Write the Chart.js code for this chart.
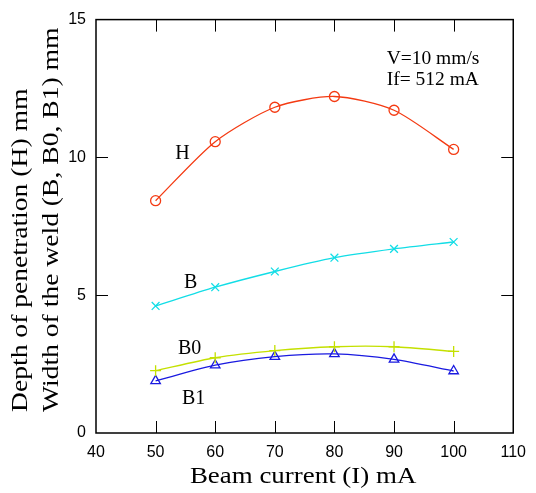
<!DOCTYPE html>
<html>
<head>
<meta charset="utf-8">
<script src="https://cdn.jsdelivr.net/npm/chart.js@4.4.1/dist/chart.umd.min.js"></script>
<style>
  body { margin: 0; background: #fff; }
  #wrap { width: 536px; height: 493px; }
</style>
</head>
<body>
<div id="wrap"><canvas id="chart" width="536" height="493"></canvas></div>
<script>
// beam current (mA) and the measured weld dimensions (mm)
const current = [50, 60, 70, 80, 90, 100];
const depthH  = [8.43, 10.57, 11.82, 12.21, 11.71, 10.29];
const widthB  = [4.61, 5.29, 5.86, 6.36, 6.68, 6.93];
const widthB0 = [2.26, 2.73, 2.99, 3.13, 3.13, 2.96];
const widthB1 = [1.89, 2.46, 2.77, 2.87, 2.67, 2.25];
const xTicks = [40, 50, 60, 70, 80, 90, 100, 110];
const yTicks = [0, 5, 10, 15];
const conditions = ['V=10 mm/s', 'If= 512 mA'];

const SERIF = "'Liberation Serif', 'Times New Roman', serif";
const SANS = "'Liberation Sans Narrow', 'Arial Narrow', 'Liberation Sans', Arial, sans-serif";

function series(label, values, color, pointStyle, radius) {
  return {
    label,
    data: values.map((v, i) => ({ x: current[i], y: v })),
    borderColor: color,
    backgroundColor: 'rgba(0,0,0,0)',
    pointBorderColor: color,
    pointBackgroundColor: 'rgba(0,0,0,0)',
    borderWidth: 1.3,
    pointBorderWidth: 1.3,
    pointStyle,
    pointRadius: radius,
    tension: 0.25,
    clip: false
  };
}

// draws text squeezed/stretched along its own direction
function stretchText(ctx, text, x, y, sx, rot) {
  ctx.save();
  ctx.translate(x, y);
  ctx.rotate(rot);
  ctx.scale(sx, 1);
  ctx.fillText(text, 0, 0);
  ctx.restore();
}

// box around the plot with inward tick marks on all four sides
const framePlugin = {
  id: 'frame',
  beforeDatasetsDraw(chart) {
    const { ctx, chartArea: a, scales } = chart;
    const len = 12;
    ctx.save();
    ctx.strokeStyle = '#000';
    ctx.lineWidth = 1.5;
    ctx.strokeRect(a.left, a.top, a.right - a.left, a.bottom - a.top);
    ctx.lineWidth = 1;
    ctx.beginPath();
    scales.x.ticks.forEach(t => {
      if (t.value <= scales.x.min || t.value >= scales.x.max) return;
      const px = Math.round(scales.x.getPixelForValue(t.value)) + 0.5;
      ctx.moveTo(px, a.bottom); ctx.lineTo(px, a.bottom - len);
      ctx.moveTo(px, a.top); ctx.lineTo(px, a.top + len);
    });
    scales.y.ticks.forEach(t => {
      if (t.value <= scales.y.min || t.value >= scales.y.max) return;
      const py = Math.round(scales.y.getPixelForValue(t.value)) + 0.5;
      ctx.moveTo(a.left, py); ctx.lineTo(a.left + len, py);
      ctx.moveTo(a.right, py); ctx.lineTo(a.right - len, py);
    });
    ctx.stroke();
    ctx.restore();
  }
};

// axis titles, curve names and the process conditions
const labelPlugin = {
  id: 'labels',
  afterDraw(chart) {
    const { ctx, chartArea: a, scales } = chart;
    const x = scales.x, y = scales.y;
    ctx.save();
    ctx.fillStyle = '#000';
    ctx.textBaseline = 'alphabetic';

    ctx.font = '23px ' + SERIF;
    ctx.textAlign = 'center';
    stretchText(ctx, 'Beam current (I) mA', (a.left + a.right) / 2 - 1.5, a.bottom + 50, 1.17, 0);
    ctx.textAlign = 'left';
    stretchText(ctx, 'Depth of penetration (H) mm', a.left - 69, a.bottom - 21, 1.2, -Math.PI / 2);
    stretchText(ctx, 'Width of the weld (B, B0, B1) mm', a.left - 38, a.bottom - 21, 1.2, -Math.PI / 2);

    ctx.font = '20px ' + SERIF;
    const names = [['H', 53.3, 9.93], ['B', 54.76, 5.25], ['B0', 53.76, 2.86], ['B1', 54.43, 1.07]];
    names.forEach(([t, vx, vy]) => ctx.fillText(t, x.getPixelForValue(vx), y.getPixelForValue(vy)));

    ctx.font = '19.5px ' + SERIF;
    ctx.fillText(conditions[0], x.getPixelForValue(88.76), y.getPixelForValue(13.39));
    ctx.fillText(conditions[1], x.getPixelForValue(88.76), y.getPixelForValue(12.61));
    ctx.restore();
  }
};

new Chart(document.getElementById('chart'), {
  type: 'line',
  data: {
    datasets: [
      series('H', depthH, '#f43a12', 'circle', 5),
      series('B', widthB, '#12dde6', 'crossRot', 5.5),
      series('B0', widthB0, '#c4e000', 'cross', 5.5),
      series('B1', widthB1, '#1a1ae0', 'triangle', 5.5)
    ]
  },
  options: {
    responsive: false,
    animation: false,
    devicePixelRatio: 1,
    layout: { padding: { left: 0, top: 13, right: 18, bottom: 0 } },
    plugins: { legend: { display: false }, tooltip: { enabled: false }, title: { display: false } },
    scales: {
      x: {
        type: 'linear', min: 40, max: 110,
        afterBuildTicks: s => { s.ticks = xTicks.map(value => ({ value })); },
        afterFit: s => { s.height = 60; },
        grid: { display: false, drawTicks: false },
        border: { display: false },
        ticks: { color: '#000', font: { family: SANS, size: 16 }, padding: 10, maxRotation: 0, autoSkip: false }
      },
      y: {
        type: 'linear', min: 0, max: 15,
        afterBuildTicks: s => { s.ticks = yTicks.map(value => ({ value })); },
        afterFit: s => { s.width = 96; },
        grid: { display: false, drawTicks: false },
        border: { display: false },
        ticks: { color: '#000', font: { family: SANS, size: 16 }, padding: 10, autoSkip: false }
      }
    }
  },
  plugins: [framePlugin, labelPlugin]
});
</script>
</body>
</html>
